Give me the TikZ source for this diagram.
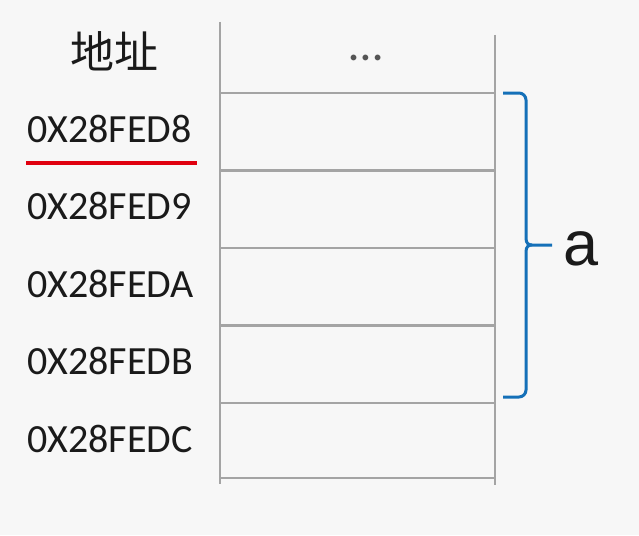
\documentclass[tikz,border=0pt]{standalone}
\usepackage{fontspec}
\setmainfont{Carlito}
\newfontfamily\cjkfont{Noto Sans CJK SC}
\newfontfamily\arialfont{Liberation Sans}
\definecolor{bgc}{HTML}{F7F7F7}
\definecolor{gridc}{HTML}{A4A4A4}
\definecolor{bracec}{HTML}{1570B8}
\definecolor{redc}{HTML}{E0000F}
\definecolor{txtc}{HTML}{1A1A1A}
\definecolor{dotc}{HTML}{555555}
\begin{document}
\begin{tikzpicture}[x=1pt,y=-1pt,
  gridline/.style={draw=gridc,line width=2.6pt},
  addr/.style={anchor=base west,inner sep=0pt,text=txtc,font=\fontsize{40}{40}\selectfont},
  bracepath/.style={draw=bracec,line width=3pt,line join=round}]
\fill[bgc] (0,0) rectangle (639,535);
\useasboundingbox (0,0) rectangle (639,535);
% table
\draw[gridline] (220,22) -- (220,484);
\draw[gridline] (495,35) -- (495,485);
\foreach \y in {93,170.5,248,325.5,403,478}{
  \draw[gridline] (220,\y) -- (495,\y);
}
% header
\node[inner sep=0pt,text=txtc,font=\cjkfont\fontsize{44}{44}\selectfont] (hdr) at (114,51) {地址};
\node[inner sep=0pt,text=dotc,font=\fontsize{48}{48}\selectfont] (dots) at (366,58) {…};
% addresses
\node[addr] (a1) at (27,142) {0X28FED8};
\node[addr] (a2) at (27,219) {0X28FED9};
\node[addr] (a3) at (27,297) {0X28FEDA};
\node[addr] (a4) at (27,374) {0X28FEDB};
\node[addr] (a5) at (27,452) {0X28FEDC};
% red underline
\coordinate (ul1) at (26,163);
\coordinate (ul2) at (197,163);
\draw[redc,line width=3.5pt] (ul1) -- (ul2);
% brace
\coordinate (bt) at (503,93);
\coordinate (bb) at (503,397);
\coordinate (tip) at (552,245);
\draw[bracepath] (bt) -- (519,93) arc[start angle=-90,end angle=0,radius=7] -- (526,238)
  .. controls (526,243) and (528,245) .. (532,245) -- (tip);
\draw[bracepath] (532,245) .. controls (528,245) and (526,247) .. (526,252) -- (526,390)
  arc[start angle=0,end angle=90,radius=7] -- (bb);
\node[anchor=base west,inner sep=0pt,text=txtc,font=\arialfont\fontsize{63}{63}\selectfont] (lbl) at (563,265) {a};
\end{tikzpicture}
\end{document}
